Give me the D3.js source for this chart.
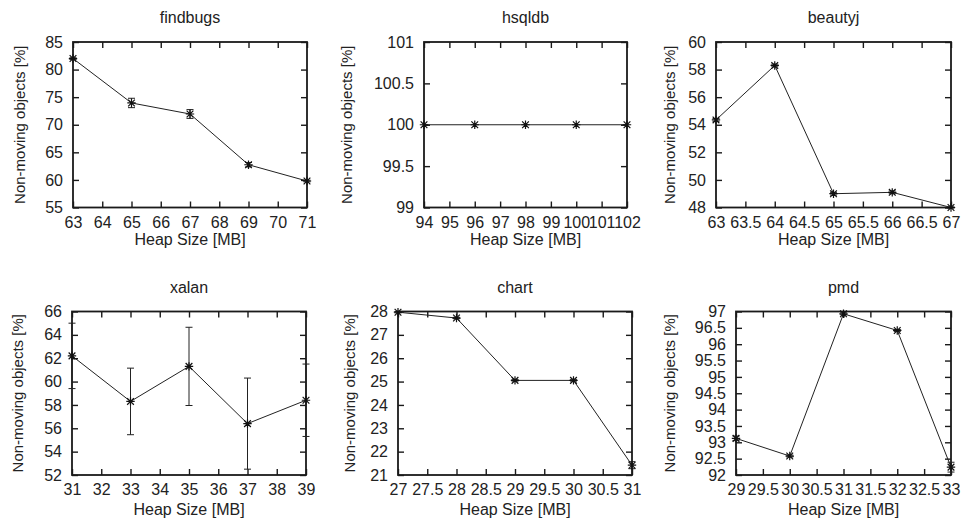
<!DOCTYPE html>
<html>
<head>
<meta charset="utf-8">
<script src="https://cdn.jsdelivr.net/npm/d3@7"></script>
<style>
  body { margin: 0; background: #fff; }
  svg { display: block; font-family: "Liberation Sans", Arial, sans-serif; }
  .axis text { font-size: 16px; fill: #222; }
  .axis line { stroke: #1a1a1a; stroke-width: 1.4; }
  .axis path { display: none; }
</style>
</head>
<body>
<svg id="graph1"></svg>
<script>
// data
var names = ["findbugs", "hsqldb", "beautyj", "xalan", "chart", "pmd"]

var findbugsX = [63, 65, 67, 69, 71]
var findbugsY = [82.0, 73.95, 71.95, 62.75, 59.8]
var findbugsErr = [0.15, 0.85, 0.8, 0.4, 0.15]

var hsqldbX = [94, 96, 98, 100, 102]
var hsqldbY = [100, 100, 100, 100, 100]
var hsqldbErr = [0, 0, 0, 0, 0]

var beautyjX = [63, 64, 65, 66, 67]
var beautyjY = [54.35, 58.3, 49.0, 49.1, 48.0]
var beautyjErr = [0.1, 0.1, 0.1, 0.1, 0.05]

var xalanX = [31, 33, 35, 37, 39]
var xalanY = [62.2, 58.3, 61.3, 56.4, 58.4]
var xalanErr = [2.8, 2.85, 3.35, 3.9, 3.1]

var chartX = [27, 28, 29, 30, 31]
var chartY = [27.97, 27.72, 25.05, 25.05, 21.42]
var chartErr = [0.03, 0.03, 0.03, 0.03, 0.15]

var pmdX = [29, 30, 31, 32, 33]
var pmdY = [93.12, 92.58, 96.93, 96.42, 92.24]
var pmdErr = [0.07, 0.03, 0.03, 0.03, 0.15]

// axis ranges and ticks
var xDomains = [[63, 71], [94, 102], [63, 67], [31, 39], [27, 31], [29, 33]]
var xSteps = [1, 1, 0.5, 1, 0.5, 0.5]
var yDomains = [[55, 85], [99, 101], [48, 60], [52, 66], [21, 28], [92, 97]]
var ySteps = [5, 0.5, 2, 2, 1, 0.5]

var seriesX = [findbugsX, hsqldbX, beautyjX, xalanX, chartX, pmdX]
var seriesY = [findbugsY, hsqldbY, beautyjY, xalanY, chartY, pmdY]
var seriesErr = [findbugsErr, hsqldbErr, beautyjErr, xalanErr, chartErr, pmdErr]

var xLabel = "Heap Size [MB]"
var yLabel = "Non-moving objects [%]"

var screen = {width: 962, height: 527}
// plot frames (left, right, top, bottom) and y label position
var frames = [
    {l: 73, r: 307, t: 42, b: 207.5, yl: 20, xl: 244.5},
    {l: 424, r: 627, t: 42, b: 207.5, yl: 347, xl: 244.5},
    {l: 716, r: 951, t: 42, b: 207.5, yl: 670, xl: 244.5},
    {l: 72, r: 306, t: 311.5, b: 475, yl: 18, xl: 515},
    {l: 398, r: 632, t: 311.5, b: 475, yl: 350, xl: 515},
    {l: 736, r: 951, t: 311.5, b: 475, yl: 670, xl: 515}
]

var svg = d3.select("#graph1")
    .attr("width", screen.width)
    .attr("height", screen.height)

var makeTicks = function(dom, step) {
    var out = []
    var n = Math.round((dom[1] - dom[0]) / step)
    for (var i = 0; i <= n; i++) out.push(+(dom[0] + i * step).toFixed(2))
    return out
}

var fmt = function(v) { return String(+v.toFixed(2)) }

var drawPanel = function(i)
{
    var f = frames[i]
    var xScale = d3.scaleLinear().domain(xDomains[i]).range([f.l, f.r])
    var yScale = d3.scaleLinear().domain(yDomains[i]).range([f.b, f.t])
    var xt = makeTicks(xDomains[i], xSteps[i])
    var yt = makeTicks(yDomains[i], ySteps[i])

    var g = svg.append("g").attr("class", "panel")

    g.append("g").attr("class", "axis")
        .attr("transform", "translate(0," + f.b + ")")
        .call(d3.axisBottom(xScale).tickValues(xt).tickFormat(fmt).tickSize(-6).tickPadding(9))
    g.append("g").attr("class", "axis")
        .attr("transform", "translate(0," + f.t + ")")
        .call(d3.axisTop(xScale).tickValues(xt).tickFormat("").tickSize(-6))
    g.append("g").attr("class", "axis")
        .attr("transform", "translate(" + f.l + ",0)")
        .call(d3.axisLeft(yScale).tickValues(yt).tickFormat(fmt).tickSize(-6).tickPadding(10))
    g.append("g").attr("class", "axis")
        .attr("transform", "translate(" + f.r + ",0)")
        .call(d3.axisRight(yScale).tickValues(yt).tickFormat("").tickSize(-6))

    g.append("rect")
        .attr("x", f.l).attr("y", f.t)
        .attr("width", f.r - f.l).attr("height", f.b - f.t)
        .attr("fill", "none").attr("stroke", "#1a1a1a").attr("stroke-width", 1.8)

    // title and labels
    g.append("text")
        .attr("x", (f.l + f.r) / 2).attr("y", f.t - 19)
        .attr("text-anchor", "middle").attr("font-size", 16).attr("fill", "#222")
        .text(names[i])
    g.append("text")
        .attr("x", (f.l + f.r) / 2).attr("y", f.xl)
        .attr("text-anchor", "middle").attr("font-size", 16).attr("fill", "#222")
        .text(xLabel)
    g.append("text")
        .attr("transform", "translate(" + (f.yl + 5) + "," + ((f.t + f.b) / 2) + ") rotate(-90)")
        .attr("text-anchor", "middle").attr("font-size", 15).attr("fill", "#222")
        .text(yLabel)

    var pts = seriesX[i].map(function(x, j) {
        return {x: x, y: seriesY[i][j], e: seriesErr[i][j]}
    })

    var line = d3.line()
        .x(function(d) { return xScale(d.x) })
        .y(function(d) { return yScale(d.y) })

    g.append("path")
        .datum(pts)
        .attr("d", line)
        .attr("fill", "none")
        .attr("stroke", "#222")
        .attr("stroke-width", 1)

    // error bars
    var eb = g.selectAll(".err").data(pts.filter(function(d) { return d.e > 0 }))
        .enter().append("g").attr("class", "err")
        .attr("stroke", "#222").attr("stroke-width", 1)
    eb.append("line")
        .attr("x1", function(d) { return xScale(d.x) })
        .attr("x2", function(d) { return xScale(d.x) })
        .attr("y1", function(d) { return yScale(d.y - d.e) })
        .attr("y2", function(d) { return yScale(d.y + d.e) })
    eb.append("line")
        .attr("x1", function(d) { return xScale(d.x) - 3.5 })
        .attr("x2", function(d) { return xScale(d.x) + 3.5 })
        .attr("y1", function(d) { return yScale(d.y - d.e) })
        .attr("y2", function(d) { return yScale(d.y - d.e) })
    eb.append("line")
        .attr("x1", function(d) { return xScale(d.x) - 3.5 })
        .attr("x2", function(d) { return xScale(d.x) + 3.5 })
        .attr("y1", function(d) { return yScale(d.y + d.e) })
        .attr("y2", function(d) { return yScale(d.y + d.e) })

    // star markers
    var r = 4.2
    g.selectAll(".pt").data(pts).enter()
        .append("path")
        .attr("class", "pt")
        .attr("transform", function(d) { return "translate(" + xScale(d.x) + "," + yScale(d.y) + ")" })
        .attr("d", "M" + (-r) + ",0H" + r + "M0," + (-r) + "V" + r +
            "M" + (-r * 0.8) + "," + (-r * 0.8) + "L" + (r * 0.8) + "," + (r * 0.8) +
            "M" + (-r * 0.8) + "," + (r * 0.8) + "L" + (r * 0.8) + "," + (-r * 0.8))
        .attr("stroke", "#111")
        .attr("stroke-width", 1.2)
        .attr("fill", "none")
}

for (var i = 0; i < names.length; i++) drawPanel(i)
</script>
</body>
</html>
